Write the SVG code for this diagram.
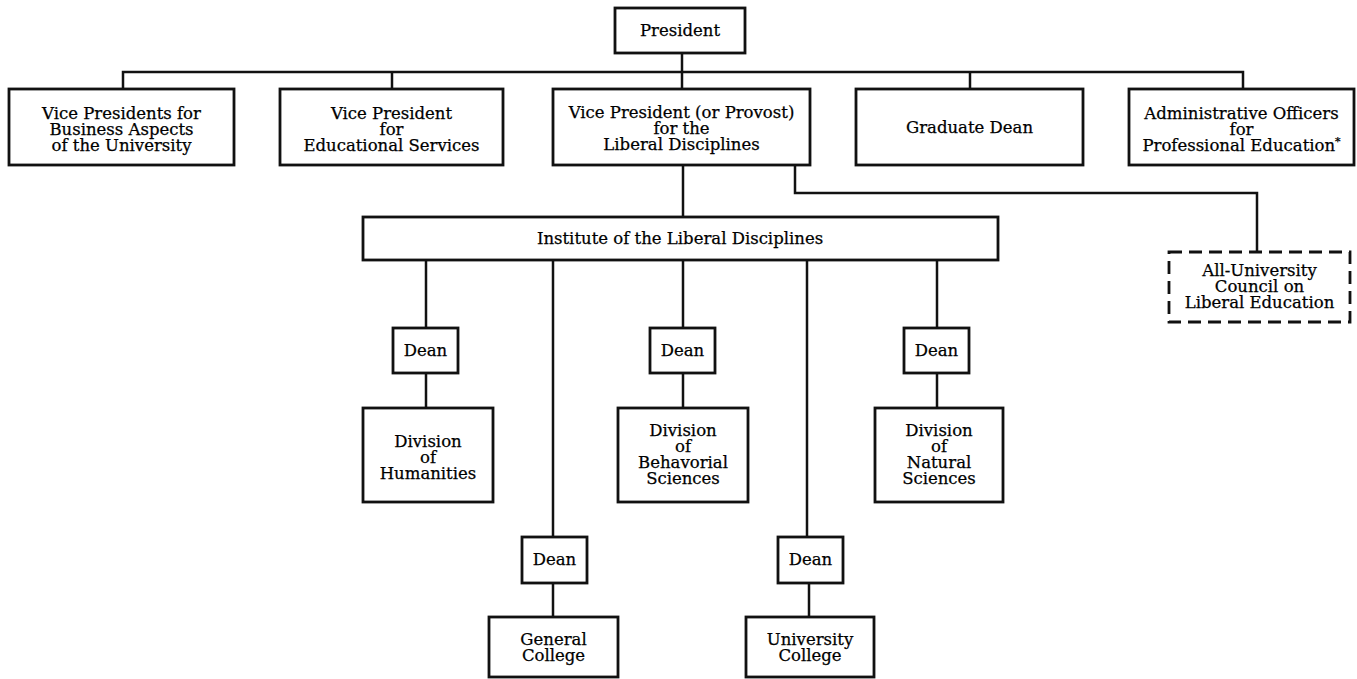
<svg xmlns="http://www.w3.org/2000/svg" width="1357" height="679" viewBox="0 0 1357 679">
  <style>
    .box { fill: #fff; stroke: #111; stroke-width: 2.8; }
    .dash { fill: #fff; stroke: #111; stroke-width: 2.8; stroke-dasharray: 13 7; }
    .wire { fill: none; stroke: #111; stroke-width: 2.5; }
    text { font-family: "DejaVu Serif", "Liberation Serif", serif; font-size: 16.5px; fill: #000; stroke: #000; stroke-width: 0.25; text-anchor: middle; }
    .sup { font-size: 11px; }
  </style>
  <rect width="1357" height="679" fill="#fff"/>

  <!-- connectors -->
  <g id="connectors">
    <path class="wire" d="M123,89 V72 H1243 V89"/>
    <path class="wire" d="M392,72 V89"/>
    <path class="wire" d="M682,53 V89"/>
    <path class="wire" d="M970,72 V89"/>
    <path class="wire" d="M683,165 V217"/>
    <path class="wire" d="M795,165 V193 H1257 V252"/>
    <path class="wire" d="M426,260 V328 M426,373 V408"/>
    <path class="wire" d="M683,260 V328 M683,373 V408"/>
    <path class="wire" d="M937,260 V328 M937,373 V408"/>
    <path class="wire" d="M553,260 V537 M553,583 V617"/>
    <path class="wire" d="M807,260 V537 M809,583 V617"/>
  </g>

  <g id="president">
    <rect class="box" x="615" y="8" width="130" height="45"/>
    <text x="680" y="36">President</text>
  </g>

  <g id="vp-business">
    <rect class="box" x="9" y="89" width="225" height="76"/>
    <text x="121.5" y="118.5">Vice Presidents for</text>
    <text x="121.5" y="134.5">Business Aspects</text>
    <text x="121.5" y="150.5">of the University</text>
  </g>

  <g id="vp-educational">
    <rect class="box" x="280" y="89" width="223" height="76"/>
    <text x="391.5" y="118.5">Vice President</text>
    <text x="391.5" y="134.5">for</text>
    <text x="391.5" y="150.5">Educational Services</text>
  </g>

  <g id="vp-liberal">
    <rect class="box" x="553" y="89" width="257" height="76"/>
    <text x="681.5" y="117.5">Vice President (or Provost)</text>
    <text x="681.5" y="133.5">for the</text>
    <text x="681.5" y="149.5">Liberal Disciplines</text>
  </g>

  <g id="graduate-dean">
    <rect class="box" x="856" y="89" width="227" height="76"/>
    <text x="969.5" y="133">Graduate Dean</text>
  </g>

  <g id="admin-officers">
    <rect class="box" x="1129" y="89" width="225" height="76"/>
    <text x="1241.5" y="118.5">Administrative Officers</text>
    <text x="1241.5" y="134.5">for</text>
    <text x="1241.5" y="150.5">Professional Education<tspan class="sup" dy="-6">*</tspan></text>
  </g>

  <g id="institute">
    <rect class="box" x="363" y="217" width="635" height="43"/>
    <text x="680" y="244">Institute of the Liberal Disciplines</text>
  </g>

  <g id="council">
    <rect class="dash" x="1169" y="252" width="181" height="70"/>
    <text x="1259.5" y="276">All-University</text>
    <text x="1259.5" y="292">Council on</text>
    <text x="1259.5" y="308">Liberal Education</text>
  </g>

  <g id="dean-humanities">
    <rect class="box" x="393" y="328" width="65" height="45"/>
    <text x="425.5" y="356">Dean</text>
  </g>
  <g id="dean-behavioral">
    <rect class="box" x="650" y="328" width="65" height="45"/>
    <text x="682.5" y="356">Dean</text>
  </g>
  <g id="dean-natural">
    <rect class="box" x="904" y="328" width="65" height="45"/>
    <text x="936.5" y="356">Dean</text>
  </g>

  <g id="division-humanities">
    <rect class="box" x="363" y="408" width="130" height="94"/>
    <text x="428" y="447">Division</text>
    <text x="428" y="463">of</text>
    <text x="428" y="479">Humanities</text>
  </g>
  <g id="division-behavioral">
    <rect class="box" x="618" y="408" width="130" height="94"/>
    <text x="683" y="436">Division</text>
    <text x="683" y="452">of</text>
    <text x="683" y="468">Behavorial</text>
    <text x="683" y="484">Sciences</text>
  </g>
  <g id="division-natural">
    <rect class="box" x="875" y="408" width="128" height="94"/>
    <text x="939" y="436">Division</text>
    <text x="939" y="452">of</text>
    <text x="939" y="468">Natural</text>
    <text x="939" y="484">Sciences</text>
  </g>

  <g id="dean-general">
    <rect class="box" x="522" y="537" width="65" height="46"/>
    <text x="554.5" y="565">Dean</text>
  </g>
  <g id="dean-university">
    <rect class="box" x="778" y="537" width="65" height="46"/>
    <text x="810.5" y="565">Dean</text>
  </g>

  <g id="general-college">
    <rect class="box" x="489" y="617" width="129" height="60"/>
    <text x="553.5" y="645">General</text>
    <text x="553.5" y="661">College</text>
  </g>
  <g id="university-college">
    <rect class="box" x="746" y="617" width="128" height="60"/>
    <text x="810" y="645">University</text>
    <text x="810" y="661">College</text>
  </g>
</svg>
